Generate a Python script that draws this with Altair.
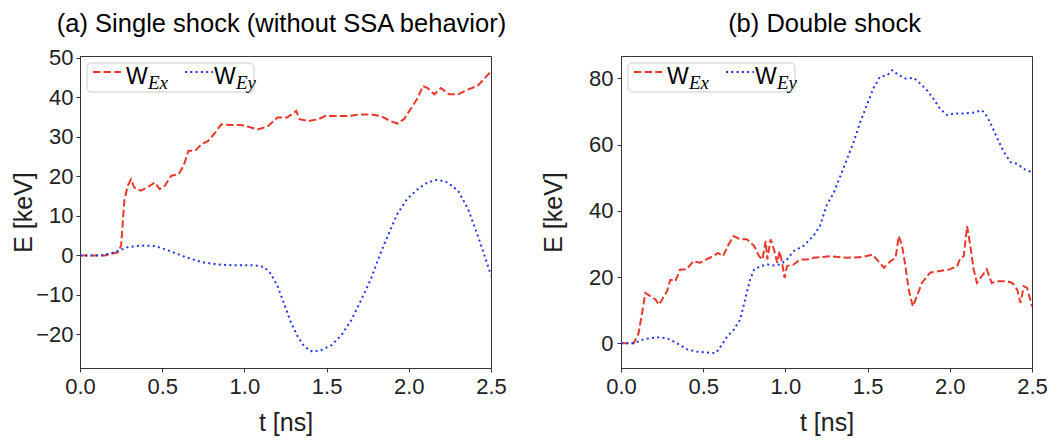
import altair as alt
import pandas as pd

RED = "#e8392b"
BLUE = "#2233ee"

# ---------------- Panel (a): single shock ----------------
a_ex_t = [0.0, 0.15, 0.23, 0.25, 0.27, 0.29, 0.31, 0.33, 0.37, 0.41, 0.455, 0.485, 0.515,
          0.555, 0.60, 0.63, 0.66, 0.70, 0.74, 0.78, 0.82, 0.86, 0.92, 0.98, 1.04, 1.08,
          1.14, 1.20, 1.26, 1.315, 1.335, 1.39, 1.45, 1.49, 1.55, 1.63, 1.71, 1.77, 1.83,
          1.89, 1.93, 1.97, 2.01, 2.055, 2.085, 2.115, 2.155, 2.195, 2.245, 2.30, 2.36,
          2.42, 2.50]
a_ex_E = [0.0, 0.0, 0.8, 2.5, 14.0, 17.6, 19.3, 17.2, 16.4, 17.2, 18.5, 16.8, 17.6,
          20.2, 20.6, 22.7, 26.5, 26.5, 28.2, 29.0, 31.0, 33.2, 33.0, 33.0, 32.4, 31.9,
          32.6, 34.9, 34.9, 36.6, 34.5, 34.0, 34.5, 35.3, 35.3, 35.3, 35.7, 35.7, 35.3,
          34.0, 33.4, 34.5, 37.0, 39.9, 42.9, 42.4, 40.8, 42.4, 40.8, 40.8, 42.0,
          43.0, 46.6]
a_ey_t = [0.0, 0.13, 0.21, 0.29, 0.37, 0.455, 0.535, 0.64, 0.74, 0.84, 0.94, 1.06, 1.12,
          1.16, 1.20, 1.245, 1.285, 1.325, 1.365, 1.415, 1.465, 1.53, 1.59, 1.65, 1.71,
          1.77, 1.83, 1.89, 1.93, 1.99, 2.055, 2.115, 2.175, 2.235, 2.30, 2.36, 2.42,
          2.46, 2.50]
a_ey_E = [0.0, 0.0, 0.8, 2.1, 2.5, 2.4, 1.3, -0.4, -1.7, -2.3, -2.5, -2.5, -2.9,
          -4.6, -7.6, -12.6, -17.2, -20.6, -23.1, -24.4, -24.0, -22.7, -20.2, -16.4, -11.3,
          -5.9, 0.8, 6.7, 10.5, 14.3, 16.8, 18.5, 19.2, 18.5, 16.4, 11.8, 5.0,
          0.0, -5.0]

# ---------------- Panel (b): double shock ----------------
b_ex_t = [0.0, 0.077, 0.107, 0.128, 0.148, 0.178, 0.21, 0.23, 0.25, 0.28, 0.30, 0.33,
          0.36, 0.40, 0.44, 0.48, 0.52, 0.56, 0.59, 0.62, 0.655, 0.685, 0.725, 0.765,
          0.81, 0.84, 0.86, 0.88, 0.89, 0.91, 0.93, 0.95, 0.965, 0.98, 0.995, 1.01,
          1.05, 1.09, 1.13, 1.17, 1.27, 1.375, 1.475, 1.53, 1.565, 1.60, 1.64, 1.67,
          1.69, 1.71, 1.73, 1.75, 1.775, 1.80, 1.83, 1.88, 1.94, 2.00, 2.045, 2.065,
          2.085, 2.105, 2.125, 2.145, 2.165, 2.195, 2.225, 2.255, 2.285, 2.35, 2.38,
          2.41, 2.43, 2.45, 2.47, 2.50]
b_ex_E = [0.0, 0.0, 3.0, 9.1, 15.2, 14.2, 13.2, 11.6, 13.2, 15.7, 19.2, 18.7,
          22.3, 22.3, 24.8, 24.3, 25.3, 26.3, 27.3, 26.3, 29.9, 32.4, 31.4, 31.4,
          29.4, 26.3, 25.3, 30.9, 25.3, 31.4, 28.4, 24.3, 27.8, 24.3, 19.7, 23.3,
          23.8, 25.3, 25.3, 25.8, 26.3, 25.8, 26.1, 26.8, 24.8, 22.8, 24.8, 25.8,
          32.4, 29.4, 23.3, 16.2, 11.1, 14.2, 18.2, 21.3, 21.8, 22.3, 23.3, 25.8,
          26.3, 35.4, 29.4, 22.3, 18.2, 20.3, 22.3, 18.2, 18.7, 18.7, 18.2,
          16.2, 12.2, 17.2, 16.7, 11.1]
b_ey_t = [0.0, 0.077, 0.14, 0.22, 0.28, 0.34, 0.40, 0.46, 0.52, 0.575, 0.60, 0.645,
          0.685, 0.725, 0.755, 0.785, 0.81, 0.85, 0.89, 0.93, 0.97, 1.01, 1.05, 1.11,
          1.17, 1.21, 1.25, 1.295, 1.335, 1.375, 1.415, 1.455, 1.495, 1.535, 1.575,
          1.62, 1.65, 1.69, 1.73, 1.78, 1.82, 1.86, 1.90, 1.94, 1.985, 2.025, 2.085,
          2.145, 2.195, 2.215, 2.245, 2.29, 2.33, 2.37, 2.41, 2.45, 2.50]
b_ey_E = [0.0, 0.0, 1.2, 1.8, 1.5, 0.0, -1.8, -2.5, -2.8, -3.0, -1.5, 2.0,
          4.0, 7.1, 13.2, 19.2, 22.3, 23.3, 23.8, 23.5, 23.8, 25.3, 27.8, 29.4,
          32.4, 35.4, 41.5, 45.6, 50.6, 55.7, 60.8, 66.8, 71.9, 77.0, 80.5,
          81.0, 82.5, 81.0, 80.0, 80.2, 78.5, 76.5, 73.9, 70.9, 68.9, 69.4, 69.4,
          69.7, 70.4, 69.4, 66.8, 61.8, 57.7, 54.7, 54.2, 52.7, 51.6]

x_ticks = [0.0, 0.5, 1.0, 1.5, 2.0, 2.5]
a_y_ticks = [-20, -10, 0, 10, 20, 30, 40, 50]
b_y_ticks = [0, 20, 40, 60, 80]
series = ["Ex", "Ey"]


def long_df(ex_t, ex_E, ey_t, ey_E):
    return pd.concat([
        pd.DataFrame({"t": ex_t, "E": ex_E, "series": "Ex"}),
        pd.DataFrame({"t": ey_t, "E": ey_E, "series": "Ey"}),
    ], ignore_index=True)


FONT = "Liberation Sans"


def panel(df, ydomain, yticks, title, ytitle_pad, ylabel_pad, title_dx, title_offset):
    lines = alt.Chart(df).mark_line(strokeWidth=2, clip=True).encode(
        x=alt.X("t:Q",
                scale=alt.Scale(domain=[0, 2.5], nice=False, zero=False),
                axis=alt.Axis(values=x_ticks, format=".1f", title="t [ns]",
                              labelFlush=False)),
        y=alt.Y("E:Q",
                scale=alt.Scale(domain=ydomain, nice=False, zero=False),
                axis=alt.Axis(values=yticks, format="d", title="E [keV]",
                              titlePadding=ytitle_pad, labelPadding=ylabel_pad)),
        color=alt.Color("series:N",
                        scale=alt.Scale(domain=series, range=[RED, BLUE]),
                        legend=None),
        strokeDash=alt.StrokeDash("series:N",
                                  scale=alt.Scale(domain=series,
                                                  range=[[7.4, 3.2], [2, 3.3]]),
                                  legend=None),
    )
    one = pd.DataFrame({"k": [0]})
    box = alt.Chart(one).mark_rect(fill="white", fillOpacity=0.8, stroke="#cccccc",
                                   strokeWidth=1, cornerRadius=4).encode(
        x=alt.value(7), x2=alt.value(174), y=alt.value(7), y2=alt.value(36))
    red_rule = alt.Chart(one).mark_rule(color=RED, strokeWidth=2,
                                        strokeDash=[7.4, 3.2]).encode(
        x=alt.value(13), x2=alt.value(41), y=alt.value(16))
    blue_rule = alt.Chart(one).mark_rule(color=BLUE, strokeWidth=2,
                                         strokeDash=[2, 3.3]).encode(
        x=alt.value(105), x2=alt.value(133), y=alt.value(16))

    def txt(s, x, y, font, size, style="normal"):
        return alt.Chart(one).mark_text(text=s, font=font, fontSize=size,
                                        fontStyle=style, align="left",
                                        baseline="alphabetic",
                                        color="black").encode(
            x=alt.value(x), y=alt.value(y))

    layers = [lines, box, red_rule, blue_rule,
              txt("W", 46, 27.5, FONT, 23),
              txt("Ex", 68, 33, "Liberation Serif", 19, "italic"),
              txt("W", 134, 27.5, FONT, 23),
              txt("Ey", 156, 33, "Liberation Serif", 19, "italic")]
    return alt.layer(*layers).properties(
        width=411, height=312,
        title=alt.TitleParams(title, font=FONT, fontSize=25.5, fontWeight="normal",
                              color="black", anchor="middle", offset=title_offset,
                              frame="group", dx=title_dx))


left = panel(long_df(a_ex_t, a_ex_E, a_ey_t, a_ey_E), [-28.5, 50.5], a_y_ticks,
             "(a) Single shock (without SSA behavior)", -1, 3, -4, 9)
right = panel(long_df(b_ex_t, b_ex_E, b_ey_t, b_ey_E), [-7.5, 86.8], b_y_ticks,
              "(b) Double shock", 22, 4, -2, 19)

chart = alt.hconcat(left, right, spacing=33).properties(
    padding={"left": 3, "top": 3, "right": 0, "bottom": 0}
).configure_view(
    stroke="#333333", strokeWidth=1
).configure_axis(
    grid=False, domainColor="#333333", tickColor="#333333", tickSize=4,
    labelFont=FONT, labelFontSize=22, labelColor="#222222", labelPadding=4,
    titleFont=FONT, titleFontSize=25, titleFontWeight="normal", titleColor="#222222",
).configure_axisX(titlePadding=13)

chart.save("out.html", embed_options={"renderer": "svg", "actions": False})
